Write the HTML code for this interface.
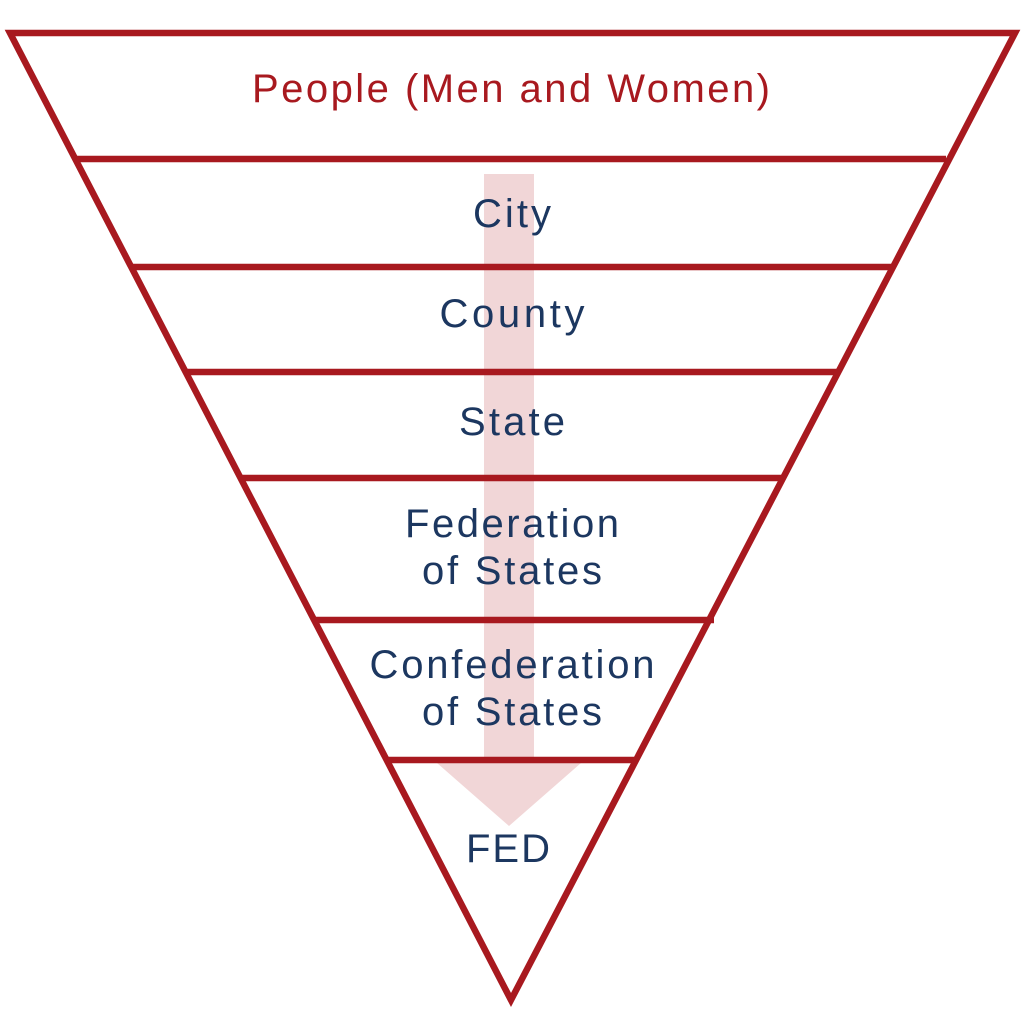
<!DOCTYPE html>
<html><head><meta charset="utf-8"><style>html,body{margin:0;padding:0;background:#fff}</style></head>
<body>
<svg width="1024" height="1024" viewBox="0 0 1024 1024" xmlns="http://www.w3.org/2000/svg">
<rect width="1024" height="1024" fill="#fff"/>
<path d="M484 174 H534 V763 H581 L509 826 L437 763 H484 Z" fill="#f1d6d7"/>
<g stroke="#a8191f" stroke-width="6.5" fill="none" stroke-linejoin="miter">
<path d="M10 33 L1015 33 L511 1000 Z"/>
<line x1="76" y1="159" x2="946" y2="159"/>
<line x1="131" y1="267" x2="892" y2="267"/>
<line x1="186" y1="372" x2="838" y2="372"/>
<line x1="241" y1="478" x2="782" y2="478"/>
<line x1="316" y1="620" x2="714" y2="620"/>
<line x1="386" y1="760" x2="638" y2="760"/>
</g>
<g font-family="Liberation Sans, sans-serif" font-size="40" text-anchor="middle" lengthAdjust="spacing">
<text x="511" y="102" fill="#a8191f" textLength="518">People (Men and Women)</text>
<g fill="#1c3760">
<text x="512" y="227" textLength="78">City</text>
<text x="512" y="327" textLength="145">County</text>
<text x="512" y="435" textLength="106">State</text>
<text x="512" y="537" textLength="214">Federation</text>
<text x="512" y="584" textLength="180">of States</text>
<text x="512" y="678" textLength="285">Confederation</text>
<text x="512" y="725" textLength="180">of States</text>
<text x="508" y="862" textLength="84">FED</text>
</g>
</g>
</svg>
</body></html>
